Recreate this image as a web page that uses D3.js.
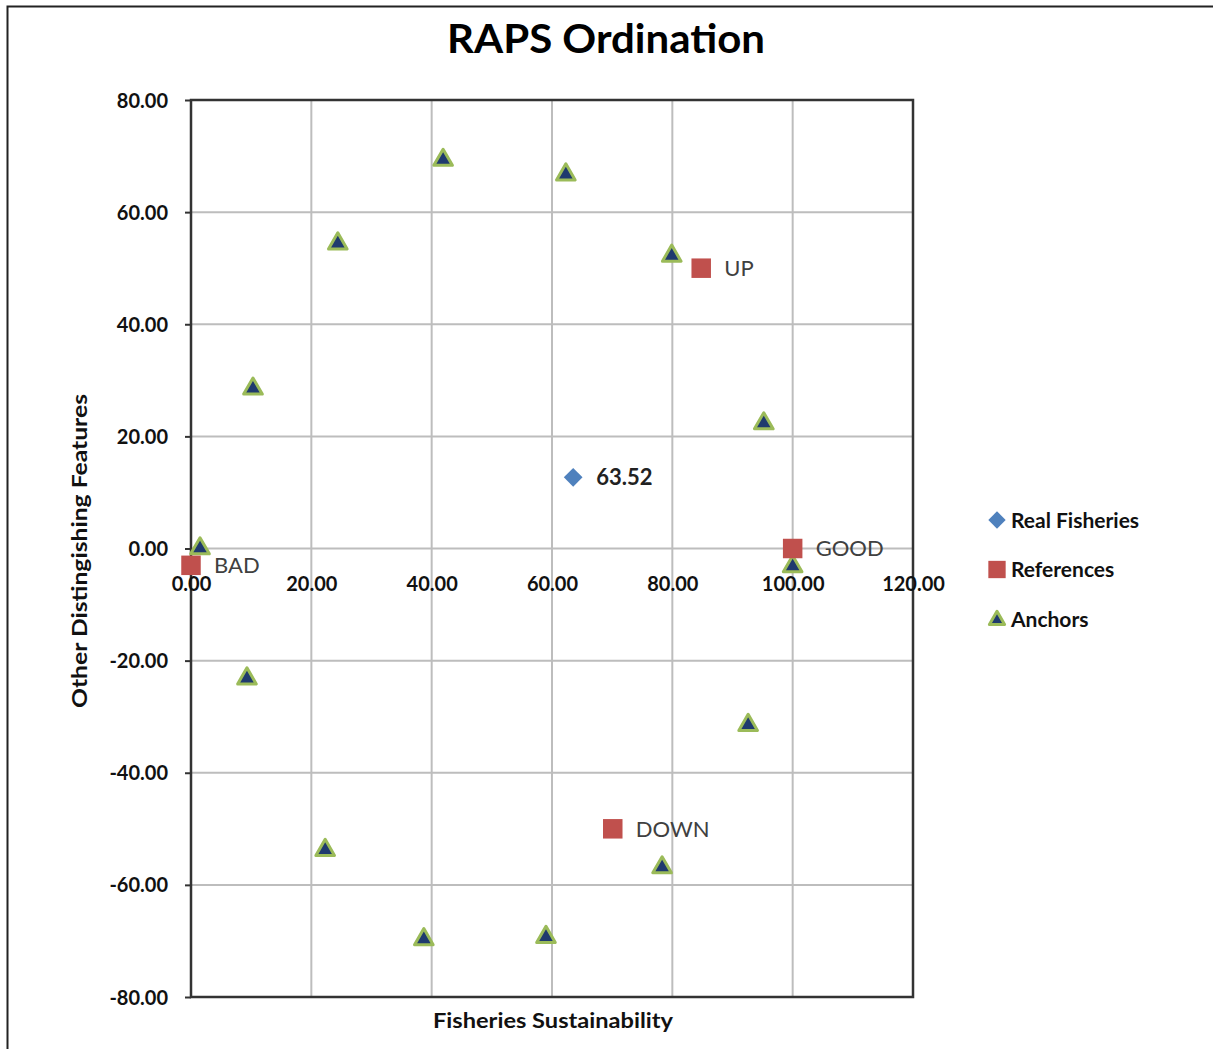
<!DOCTYPE html>
<html>
<head>
<meta charset="utf-8">
<script src="https://cdn.jsdelivr.net/npm/d3@7"></script>
<style>
  body { margin: 0; background: #fff; }
  svg text { font-family: Lato, "Open Sans", sans-serif; }
</style>
</head>
<body>
<script>
// Real fisheries point
const realX = [63.52];
const realY = [12.7];
const realLabels = ["63.52"];

// Reference points
const refNames = ["BAD", "GOOD", "UP", "DOWN"];
const refX = [0, 100, 84.8, 70.1];
const refY = [-3, 0, 50, -50];

// Anchor points
const anchorX = [1.5, 10.3, 24.4, 41.9, 62.3, 79.9, 95.2, 100, 92.6, 78.3, 59.0, 38.7, 22.3, 9.3];
const anchorY = [0.0, 28.5, 54.4, 69.3, 66.7, 52.2, 22.3, -3.2, -31.5, -56.9, -69.3, -69.7, -53.8, -23.2];

// Tick values
const xTicks = [0, 20, 40, 60, 80, 100, 120];
const yTicks = [-80, -60, -40, -20, 0, 20, 40, 60, 80];

const legendNames = ["Real Fisheries", "References", "Anchors"];

const width = 1213, height = 1049;
const plot = { left: 191, right: 913, top: 100, bottom: 997 };

const svg = d3.select('body').append('svg')
  .attr('width', width)
  .attr('height', height);

// Outer border
svg.append('rect')
  .attr('x', 7.5).attr('y', 6.5)
  .attr('width', width + 20).attr('height', height + 20)
  .attr('fill', 'none').attr('stroke', '#222').attr('stroke-width', 2);

const x = d3.scaleLinear().domain([0, 120]).range([plot.left, plot.right]);
const y = d3.scaleLinear().domain([-80, 80]).range([plot.bottom, plot.top]);
// plain hyphen for negatives, like the original
const fmt = d => d3.format('.2f')(d).replace('\u2212', '-');

// Gridlines
svg.append('g').selectAll('line').data(xTicks.slice(1, -1)).join('line')
  .attr('x1', d => x(d)).attr('x2', d => x(d))
  .attr('y1', plot.top).attr('y2', plot.bottom)
  .attr('stroke', '#bdbdbd').attr('stroke-width', 2);
svg.append('g').selectAll('line').data(yTicks.slice(1, -1)).join('line')
  .attr('x1', plot.left).attr('x2', plot.right)
  .attr('y1', d => y(d)).attr('y2', d => y(d))
  .attr('stroke', '#bdbdbd').attr('stroke-width', 2);

// Plot frame
svg.append('rect')
  .attr('x', plot.left).attr('y', plot.top)
  .attr('width', plot.right - plot.left).attr('height', plot.bottom - plot.top)
  .attr('fill', 'none').attr('stroke', '#333').attr('stroke-width', 2.5);

// Y axis
const yAxis = svg.append('g')
  .attr('transform', `translate(${plot.left},0)`)
  .call(d3.axisLeft(y).tickValues(yTicks).tickFormat(fmt).tickSize(6).tickPadding(17));
yAxis.select('.domain').remove();
yAxis.selectAll('line').attr('stroke', '#333').attr('stroke-width', 2);
yAxis.selectAll('text')
  .attr('font-size', 20).attr('font-weight', 'bold').attr('fill', '#111')
  .attr('dy', '0.35em');

// X axis (crossing at y = 0)
const xAxis = svg.append('g')
  .attr('transform', `translate(0,${y(0)})`)
  .call(d3.axisBottom(x).tickValues(xTicks).tickFormat(fmt).tickSize(0).tickPadding(35));
xAxis.select('.domain').remove();
xAxis.selectAll('text')
  .attr('font-size', 20).attr('font-weight', 'bold').attr('fill', '#111')
  .attr('dy', '0.35em');

// Title and axis titles
svg.append('text')
  .attr('x', 606).attr('y', 53)
  .attr('text-anchor', 'middle')
  .attr('font-size', 40).attr('font-weight', 'bold').attr('fill', '#000')
  .attr('textLength', 318).attr('lengthAdjust', 'spacingAndGlyphs')
  .text('RAPS Ordination');

svg.append('text')
  .attr('x', 553).attr('y', 1028)
  .attr('text-anchor', 'middle')
  .attr('font-size', 20).attr('font-weight', 'bold').attr('fill', '#111')
  .attr('textLength', 240).attr('lengthAdjust', 'spacingAndGlyphs')
  .text('Fisheries Sustainability');

svg.append('text')
  .attr('transform', 'translate(87,551) rotate(-90)')
  .attr('text-anchor', 'middle')
  .attr('font-size', 20).attr('font-weight', 'bold').attr('fill', '#111')
  .attr('textLength', 314).attr('lengthAdjust', 'spacingAndGlyphs')
  .text('Other Distingishing Features');

// Symbols
const triangle = d3.symbol().type(d3.symbolTriangle).size(150);
const square = d3.symbol().type(d3.symbolSquare).size(380);
const diamond = d3.symbol().type(d3.symbolSquare).size(175);

// Anchors
svg.append('g').selectAll('path').data(anchorX).join('path')
  .attr('d', triangle)
  .attr('transform', (d, i) => `translate(${x(d)},${y(anchorY[i])})`)
  .attr('fill', '#1f3a6e').attr('stroke', '#9bbb59').attr('stroke-width', 3)
  .attr('stroke-linejoin', 'round');

// References
svg.append('g').selectAll('path').data(refX).join('path')
  .attr('d', square)
  .attr('transform', (d, i) => `translate(${x(d)},${y(refY[i])})`)
  .attr('fill', '#c0504d');
svg.append('g').selectAll('text').data(refNames).join('text')
  .attr('x', (d, i) => x(refX[i]) + 23)
  .attr('y', (d, i) => y(refY[i]))
  .attr('dy', '0.36em')
  .attr('font-size', 22).attr('fill', '#404040')
  .text(d => d);

// Real fisheries
svg.append('g').selectAll('path').data(realX).join('path')
  .attr('d', diamond)
  .attr('transform', (d, i) => `translate(${x(d)},${y(realY[i])}) rotate(45)`)
  .attr('fill', '#4f81bd');
svg.append('g').selectAll('text').data(realLabels).join('text')
  .attr('x', (d, i) => x(realX[i]) + 23)
  .attr('y', (d, i) => y(realY[i]))
  .attr('dy', '0.36em')
  .attr('font-size', 22).attr('font-weight', 'bold').attr('fill', '#222')
  .text(d => d);

// Legend
const legend = svg.append('g').attr('transform', 'translate(997,520)');
const legendSymbols = [
  { sym: d3.symbol().type(d3.symbolSquare).size(150), fill: '#4f81bd', stroke: 'none', rot: 45 },
  { sym: d3.symbol().type(d3.symbolSquare).size(300), fill: '#c0504d', stroke: 'none', rot: 0 },
  { sym: d3.symbol().type(d3.symbolTriangle).size(100), fill: '#1f3a6e', stroke: '#9bbb59', rot: 0 }
];
legendNames.forEach((name, i) => {
  const row = legend.append('g').attr('transform', `translate(0,${i * 49.5})`);
  row.append('path')
    .attr('d', legendSymbols[i].sym)
    .attr('transform', `translate(0,${i === 2 ? 1 : 0}) rotate(${legendSymbols[i].rot})`)
    .attr('fill', legendSymbols[i].fill)
    .attr('stroke', legendSymbols[i].stroke).attr('stroke-width', 3)
    .attr('stroke-linejoin', 'round');
  row.append('text')
    .attr('x', 14).attr('dy', '0.36em')
    .attr('font-size', 21).attr('font-weight', 'bold').attr('fill', '#111')
    .text(name);
});
</script>
</body>
</html>
